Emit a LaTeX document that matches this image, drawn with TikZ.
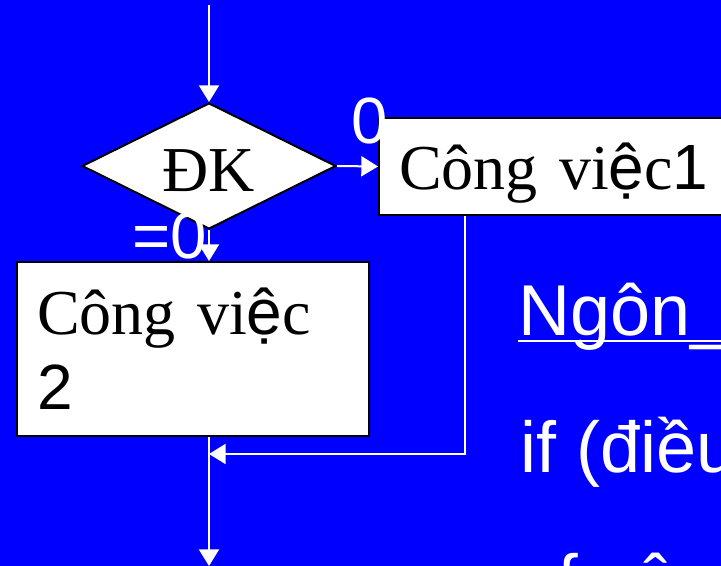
\documentclass[tikz,border=0pt]{standalone}
\usepackage{fontspec}
\setmainfont{Liberation Serif}
\setsansfont{Liberation Sans}
\usetikzlibrary{shapes.geometric,arrows.meta}

\definecolor{slideblue}{RGB}{0,0,255}
\newcommand{\vie}{{\sffamily ệ}}

\tikzset{
	flow/.style={draw=white,line width=1.5pt,-{Triangle[width=15pt,length=12.5pt]}},
	jobbox/.style={rectangle,draw=black,line width=1.5pt,fill=white,inner xsep=15pt,inner ysep=0pt,align=left,font=\fontsize{48}{56}\selectfont},
	flag/.style={text=white,inner sep=0pt,font=\sffamily\fontsize{49}{56}\selectfont},
	slidetext/.style={anchor=base west,text=white,inner sep=0pt,font=\sffamily\fontsize{54}{64}\selectfont}
}

\begin{document}
\begin{tikzpicture}[x=0.75pt,y=-0.75pt]
	\useasboundingbox (0,0) rectangle (721,566);
	\clip (0,0) rectangle (721,566);
	\fill[slideblue] (0,0) rectangle (721,566);
	
	% flowchart
	\node[diamond,draw=black,line width=1.5pt,fill=white,shape aspect=2,inner sep=0pt,
		minimum width=190.5pt,minimum height=94.5pt,text height=39pt,text depth=0pt,
		font=\fontsize{48}{56}\selectfont] (dk) at (209,166) {ĐK};
	\node[jobbox,anchor=west,text width=241.5pt,minimum height=72.75pt,text depth=0pt] (job1) at (378,166.5) {Công vi\vie c{\sffamily 1}};
	\node[jobbox,text width=234pt,minimum height=130.5pt] (job2) at (193,349) {Công vi\vie c\\{\sffamily 2}};
	
	\coordinate (entry) at (209,5);
	\coordinate (corner) at (465,454);
	\coordinate (join) at (209,454);
	\coordinate (exit) at (209,566);
	
	\draw[flow] (entry) -- (dk.north);
	\draw[flow] (dk.east) -- (job1.west);
	\draw[flow] (dk.south) -- (dk.south |- job2.north);
	\draw[flow] (corner |- job1.south) -- (corner) -- (join);
	\draw[flow] (exit |- job2.south) -- (exit);
	
	\node[flag] (yes) at (370,121) {0};
	\node[flag] (no) at (170,236) {=0};
	
	% syntax text
	\node[slidetext] (lang) at (518,336) {Ngôn\_};
	\draw[white,line width=1.5pt] ([yshift=-3.75pt]lang.base west) -- ++(220,0);
	\node[slidetext] (cond) at (520,472) {if (điều};
	\node[slidetext] (block) at (555,605) {\{ công};
	
\end{tikzpicture}
\end{document}
